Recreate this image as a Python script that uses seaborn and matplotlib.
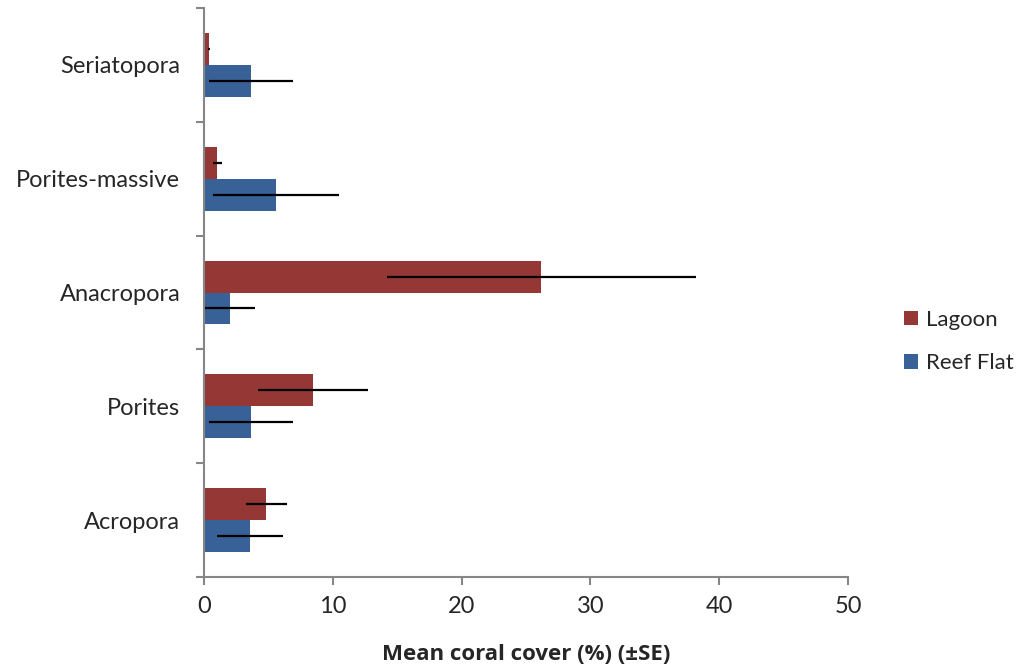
import pandas as pd
import matplotlib
matplotlib.use("Agg")
import matplotlib.pyplot as plt
import seaborn as sns

genera = ["Seriatopora", "Porites-massive", "Anacropora", "Porites", "Acropora"]
lagoon_mean = [0.4, 1.05, 26.2, 8.45, 4.85]
lagoon_se = [0.08, 0.37, 12.0, 4.25, 1.6]
reef_mean = [3.65, 5.6, 2.0, 3.65, 3.6]
reef_se = [3.25, 4.9, 2.0, 3.25, 2.55]
habitats = ["Lagoon", "Reef Flat"]
colors = ["#953735", "#376197"]

data = pd.DataFrame({
    "genus": genera * 2,
    "habitat": ["Lagoon"] * len(genera) + ["Reef Flat"] * len(genera),
    "cover": lagoon_mean + reef_mean,
    "se": lagoon_se + reef_se,
})

sns.set_style("white")
plt.rcParams["font.family"] = ["Lato", "DejaVu Sans"]

fig = plt.figure(figsize=(10.28, 6.70), dpi=100)
ax = fig.add_axes([0.1984, 0.1388, 0.6265, 0.8492])

sns.barplot(data=data, y="genus", x="cover", hue="habitat", order=genera,
            hue_order=habitats, palette=colors, orient="h", width=0.56,
            errorbar=None, saturation=1, edgecolor="none", ax=ax)

# error bars from the SE columns, positioned on each bar
for cont, hab in zip(ax.containers, habitats):
    sub = data[data["habitat"] == hab]
    ys = [b.get_y() + b.get_height() / 2 for b in cont]
    ax.errorbar(sub["cover"], ys, xerr=sub["se"], fmt="none",
                ecolor="black", elinewidth=1.6, capsize=0)

ax.set_xlim(0, 50)
ax.set_ylim(4.5, -0.5)
ax.set_xticks(range(0, 51, 10))
ax.set_yticks(range(len(genera)))
ax.set_yticklabels(genera)
ax.set_yticks([i - 0.5 for i in range(len(genera) + 1)], minor=True)
ax.tick_params(axis="y", which="major", length=0, pad=17, labelsize=17)
ax.tick_params(axis="y", which="minor", length=6, width=1.5, color="#868686", direction="out", left=True)
ax.tick_params(axis="x", length=6, width=1.5, color="#868686", direction="out",
               bottom=True, pad=8, labelsize=17)

for s in ["top", "right"]:
    ax.spines[s].set_visible(False)
for s in ["left", "bottom"]:
    ax.spines[s].set_color("#868686")
    ax.spines[s].set_linewidth(1.5)

ax.set_ylabel("")
ax.set_xlabel("Mean coral cover (%) (±SE)", fontsize=16, fontweight="bold", labelpad=19,
              family=["Open Sans", "DejaVu Sans"])

handles, labels = ax.get_legend_handles_labels()
ax.legend_.remove()
fig.legend(handles, labels, loc="center left", bbox_to_anchor=(0.869, 0.490),
           frameon=False, fontsize=16, handlelength=0.62, handleheight=0.62,
           handletextpad=0.35, labelspacing=1.05, borderpad=0)

fig.savefig("out.png", dpi=100)
